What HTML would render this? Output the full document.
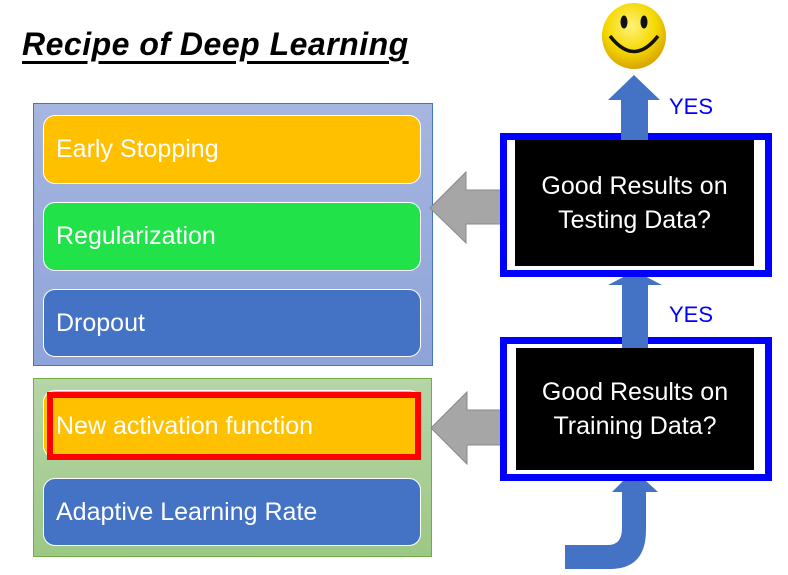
<!DOCTYPE html>
<html><head><style>
body{margin:0;width:788px;height:575px;background:#fff;position:relative;overflow:hidden;font-family:"Liberation Sans",sans-serif}
.a{position:absolute}
.item{position:absolute;left:43px;width:378px;border:1.5px solid #fff;border-radius:12px;color:#fff;font-size:25px;box-sizing:border-box;display:flex;align-items:center;padding-left:12px}
.bb{position:absolute;border:7px solid #0000ff;background:#fff;box-sizing:border-box}
.blk{position:absolute;background:#000;color:#fff;font-size:25px;text-align:center;line-height:34px;display:flex;align-items:center;justify-content:center}
.yes{position:absolute;left:669px;color:#0000ff;font-size:22px}
</style></head><body>
<div class="a" style="left:22px;top:26px;font-size:32px;font-weight:bold;font-style:italic;letter-spacing:0.5px;text-decoration:underline;text-underline-offset:6px">Recipe of Deep Learning</div>
<div class="a" style="left:33px;top:103px;width:400px;height:263px;background:linear-gradient(#a6b6e0,#8ea3d8);border:1px solid #4472c4;box-sizing:border-box"></div>
<div class="item" style="top:115px;height:69px;background:#ffc000">Early Stopping</div>
<div class="item" style="top:202px;height:69px;background:#22e24a">Regularization</div>
<div class="item" style="top:289px;height:68px;background:#4472c4">Dropout</div>
<div class="a" style="left:33px;top:378px;width:399px;height:179px;background:linear-gradient(#b6d5a8,#9cc884);border:1px solid #70ad47;box-sizing:border-box"></div>
<div class="item" style="top:390px;height:68px;background:#ffc000"></div>
<div class="a" style="left:47px;top:392px;width:374px;height:68px;border:6px solid #ff0000;box-sizing:border-box;background:#ffc000;color:#fff;font-size:25px;display:flex;align-items:center;padding-left:3px">New activation function</div>
<div class="item" style="top:478px;height:68px;background:#4472c4">Adaptive Learning Rate</div>

<svg class="a" style="left:0;top:0" width="788" height="575">
<defs><radialGradient id="s" cx="45%" cy="35%" r="65%"><stop offset="0" stop-color="#fff27a"/><stop offset="0.6" stop-color="#f5d800"/><stop offset="1" stop-color="#d9a400"/></radialGradient></defs>
<ellipse cx="634" cy="36" rx="32" ry="33" fill="url(#s)"/>
<ellipse cx="624" cy="22" rx="3.5" ry="6.5" fill="#111"/><ellipse cx="644" cy="22" rx="3.5" ry="6.5" fill="#111"/>
<path d="M610 36 Q634 67 658 36" stroke="#111" stroke-width="3.5" fill="none"/>
<polygon points="430,208 466,172 466,190 518,190 518,224 466,224 466,243" fill="#a6a6a6" stroke="#8a8a8a"/>
<polygon points="431,428 467,392 467,410 518,410 518,445 467,445 467,464" fill="#a6a6a6" stroke="#8a8a8a"/>
<polygon points="634,75 660,100 648,100 648,140 621,140 621,100 608,100" fill="#4472c4"/>
<polygon points="635,271 662,285 648,285 648,345 622,345 622,285 608,285" fill="#4472c4"/>
<path d="M634,470 L658,492 L646,492 L646,530 Q646,569 610,569 L565,569 L565,545 L608,545 Q622,545 622,528 L622,492 L612,492 Z" fill="#4472c4"/>
</svg>
<div class="bb" style="left:500px;top:133px;width:272px;height:144px"></div>
<div class="blk" style="left:515px;top:140px;width:239px;height:126px">Good Results on<br>Testing Data?</div>
<div class="bb" style="left:500px;top:337px;width:272px;height:144px"></div>
<div class="blk" style="left:516px;top:348px;width:238px;height:122px">Good Results on<br>Training Data?</div>
<svg class="a" style="left:0;top:0" width="788" height="575">
<rect x="621" y="133" width="27" height="7" fill="#4472c4"/>
<rect x="622" y="337" width="26" height="11" fill="#4472c4"/>
</svg>
<div class="yes" style="top:94px">YES</div>
<div class="yes" style="top:302px">YES</div>
</body></html>
